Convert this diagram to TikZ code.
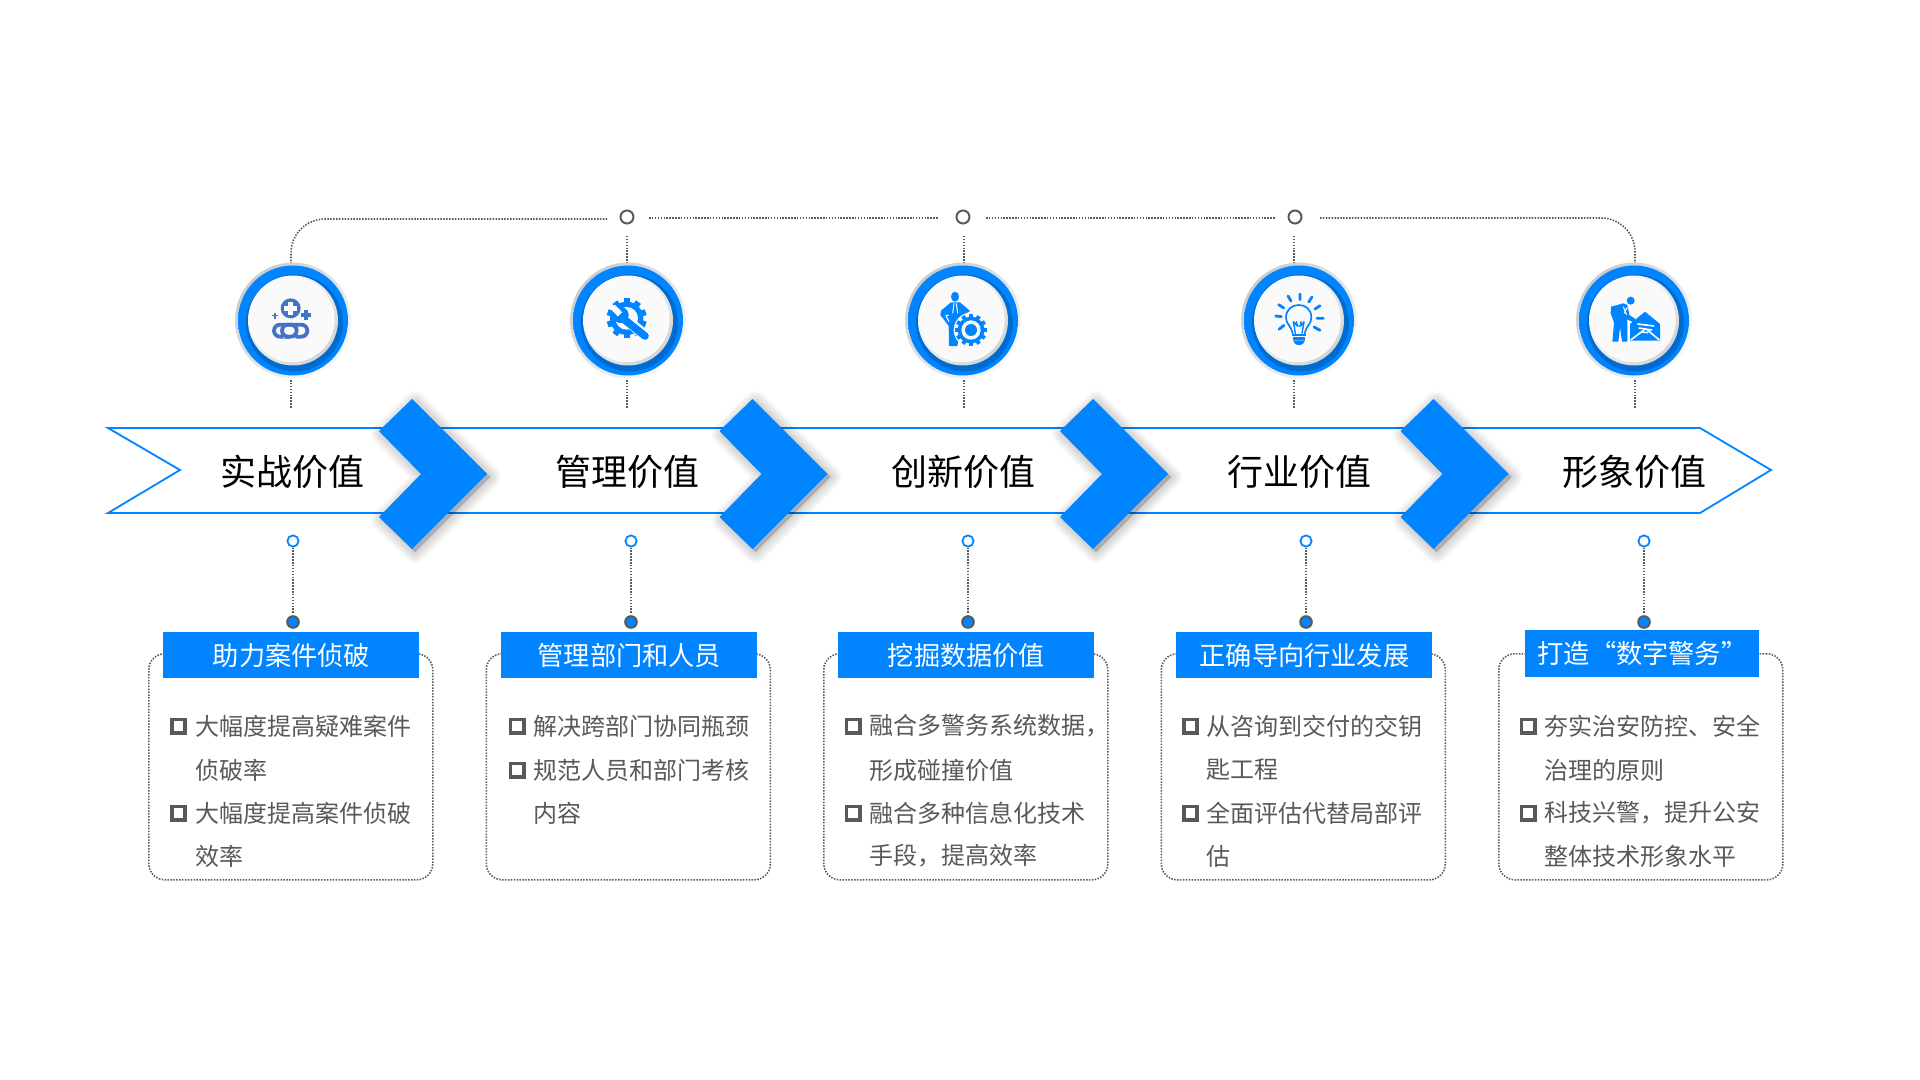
\documentclass[tikz,border=0pt]{standalone}
\usepackage{fontspec}
\setmainfont{Noto Sans CJK SC}
\definecolor{brand}{RGB}{0,132,255}
\definecolor{branddark}{RGB}{0,100,192}
\definecolor{bodygray}{RGB}{89,89,89}
\definecolor{dotgray}{RGB}{90,90,90}
\definecolor{chainblue}{RGB}{68,114,196}
\definecolor{discwhite}{RGB}{250,250,250}
\pgfdeclareradialshading{ringshade}{\pgfpointorigin}{color(0bp)=(brand); color(42bp)=(brand); color(50bp)=(branddark)}
\tikzset{
  dotline/.style={draw=dotgray,line width=0.8pt,dash pattern=on 0.75pt off 0.7pt},
  halo/.style={circle,inner sep=0pt,minimum size=58pt,top color=black!20,bottom color=black!3,shading angle=45},
  ring/.style={circle,inner sep=0pt,minimum size=55pt,shading=ringshade},
  rim/.style={circle,inner sep=0pt,minimum size=45pt,top color=white,bottom color=black!17,shading angle=45},
  disc/.style={circle,inner sep=0pt,minimum size=42.5pt,fill=discwhite},
  topdot/.style={circle,draw=dotgray,line width=1pt,fill=white,inner sep=0pt,minimum size=6.5pt},
  lowdot/.style={circle,draw=brand,line width=0.9pt,fill=white,inner sep=0pt,minimum size=5.6pt},
  stopdot/.style={circle,draw=dotgray,line width=1pt,fill=brand,inner sep=0pt,minimum size=5.8pt},
  headtext/.style={inner sep=0pt,text=black,font=\fontsize{18pt}{20pt}\selectfont},
  framebox/.style={dotline,rounded corners=8pt,anchor=north west,inner sep=0pt,minimum width=142pt,minimum height=113pt},
  titlebox/.style={fill=brand,text=white,anchor=north west,inner sep=0pt,minimum height=23pt,minimum width=128pt,font=\fontsize{13.1pt}{15pt}\selectfont},
  bodytext/.style={anchor=west,inner sep=0pt,text=bodygray,font=\fontsize{12pt}{14pt}\selectfont},
  bulletbox/.style={draw=bodygray,line width=1.9pt,inner sep=0pt,minimum size=6.6pt},
  chevshape/.style={fill=brand},
  icon/.style={fill=brand,draw=none},
  iconline/.style={draw=brand,line cap=round,line join=round},
}
\newcommand{\chevronat}[1]{%
  \begin{scope}[shift={(#1,0)}]
    \foreach \w in {11,9.5,8,6.5,5,3.5,2,0.5}
      \path[draw=black,draw opacity=0.022,fill=black,fill opacity=0.022,line width=\w pt,line join=round,shift={(3,3)}]
        (412,399) -- (487,474) -- (412,549) -- (379,517) -- (421,474) -- (379,431) -- cycle;
    \path[chevshape] (412,399) -- (487,474) -- (412,549) -- (379,517) -- (421,474) -- (379,431) -- cycle;
  \end{scope}}
\newcommand{\bodyline}[4]{\node[bodytext] (#1) at (#2,#3) {#4};}
\newcommand{\bulletat}[3]{\node[bulletbox] (#1) at (#2,#3) {};}
\begin{document}
\begin{tikzpicture}[x=0.5pt,y=-0.5pt]
\useasboundingbox (0,0) rectangle (1920,1080);
\fill[white] (0,0) rectangle (1920,1080);

% top connector
\node[topdot] (t2) at (627,217) {};
\node[topdot] (t3) at (963,217) {};
\node[topdot] (t4) at (1295,217) {};
\coordinate (u1) at (291,264);
\coordinate (v1) at (607,219);
\coordinate (v2) at (649,218);
\coordinate (v3) at (938,218);
\coordinate (v4) at (986,218);
\coordinate (v5) at (1275,218);
\coordinate (v6) at (1320,218);
\coordinate (u5) at (1635,264);
\draw[dotline,rounded corners=17pt] (u1) |- (v1);
\draw[dotline] (v2) -- (v3);
\draw[dotline] (v4) -- (v5);
\draw[dotline,rounded corners=17pt] (v6) -| (u5);
\foreach \i/\x in {2/627,3/964,4/1294} {
  \coordinate (a\i) at (\x,264);
  \coordinate (m\i) at (\x,236);
  \draw[dotline] (m\i) -- (a\i);
}
\foreach \i/\x in {1/291,2/627,3/964,4/1294,5/1635} {
  \coordinate (b\i) at (\x,380);
  \coordinate (e\i) at (\x,408);
  \draw[dotline] (b\i) -- (e\i);
}

% circles
\foreach \i/\x in {1/293,2/628,3/963,4/1299,5/1634} {
  \node[halo] (h\i) at (\x,320.5) {};
  \node[ring] (c\i) at (\x,320.5) {};
  \fill[branddark,opacity=0.75] (\x+1.5,323) circle[radius=48.5];
  \node[rim] (r\i) at (\x,320.5) {};
  \node[disc] (d\i) at (\x-0.8,319.7) {};
}

% band
\draw[brand,line width=0.9pt,line join=miter,fill=white]
  (108,428) -- (1700,428) -- (1771,470) -- (1700,513) -- (108,513) -- (180,470) -- cycle;
\chevronat{0}
\chevronat{340.5}
\chevronat{681}
\chevronat{1021.5}

\node[headtext] (h1t) at (292.5,471.5) {实战价值};
\node[headtext] (h2t) at (627.5,471.5) {管理价值};
\node[headtext] (h3t) at (963.5,471.5) {创新价值};
\node[headtext] (h4t) at (1299.5,471.5) {行业价值};
\node[headtext] (h5t) at (1634.5,471.5) {形象价值};

% frames, stems
\foreach \i/\f/\x in {1/148/293,2/485.5/631,3/823/968,4/1160.5/1306,5/1498/1644} {
  \node[framebox] (f\i) at (\f,653) {};
  \node[lowdot] (l\i) at (\x,541) {};
  \node[stopdot] (s\i) at (\x,622) {};
  \draw[dotline,shorten >=0.6pt] (l\i) -- (s\i);
}

% titles
\node[titlebox] (b1t) at (163,632) {助力案件侦破};
\node[titlebox] (b2t) at (501,632) {管理部门和人员};
\node[titlebox] (b3t) at (838,632) {挖掘数据价值};
\node[titlebox] (b4t) at (1176,632) {正确导向行业发展};
\node[titlebox,minimum width=117pt,minimum height=23.5pt] (b5t) at (1525,630) {\raisebox{-1pt}{打造“数字警务”}};

% bullets
\bulletat{q11}{178.5}{726}\bulletat{q12}{178.5}{813}
\bulletat{q21}{517}{726}\bulletat{q22}{517}{770}
\bulletat{q31}{853}{726}\bulletat{q32}{853}{813}
\bulletat{q41}{1190.5}{726}\bulletat{q42}{1190.5}{813}
\bulletat{q51}{1528}{726}\bulletat{q52}{1528}{813}

\bodyline{p11}{195}{726}{大幅度提高疑难案件}
\bodyline{p12}{195}{770}{侦破率}
\bodyline{p13}{195}{813}{大幅度提高案件侦破}
\bodyline{p14}{195}{856}{效率}
\bodyline{p21}{533.5}{726}{解决跨部门协同瓶颈}
\bodyline{p22}{533.5}{770}{规范人员和部门考核}
\bodyline{p23}{533.5}{813}{内容}
\bodyline{p31}{869}{726}{融合多警务系统数据，}
\bodyline{p32}{869}{770}{形成碰撞价值}
\bodyline{p33}{869}{813}{融合多种信息化技术}
\bodyline{p34}{869}{856}{手段，提高效率}
\bodyline{p41}{1206.5}{726}{从咨询到交付的交钥}
\bodyline{p42}{1206.5}{770}{匙工程}
\bodyline{p43}{1206.5}{813}{全面评估代替局部评}
\bodyline{p44}{1206.5}{856}{估}
\bodyline{p51}{1544}{726}{夯实治安防控、安全}
\bodyline{p52}{1544}{770}{治理的原则}
\bodyline{p53}{1544}{813}{科技兴警，提升公安}
\bodyline{p54}{1544}{856}{整体技术形象水平}

% icon 1: chain with pluses (zoom coordinates, 3 units = 1 px)
\begin{scope}[shift={(200,190)},x=0.16667pt,y=-0.16667pt]
  \fill[chainblue] (272,355) circle[radius=30];
  \draw[white,line width=2.6pt] (253,355) -- (291,355) (272,336) -- (272,374);
  \draw[chainblue,line width=2.2pt] (303,375) -- (333,375) (318,360) -- (318,390);
  \draw[chainblue,line width=0.7pt] (216,377) -- (234,377) (225,368) -- (225,386);
  \draw[chainblue,line width=1.9pt] (240,404) -- (272,404) arc[start angle=-90,end angle=90,radius=18] -- (240,440) arc[start angle=90,end angle=270,radius=18] -- cycle;
  \draw[discwhite,line width=1.2pt] (250,440) -- (262,440) (276,404) -- (294,404);
  \draw[chainblue,line width=1.9pt] (268,440) -- (264,440) arc[start angle=90,end angle=270,radius=18] -- (304,404) arc[start angle=-90,end angle=90,radius=18] -- (286,440);
\end{scope}

% icon 2: gear and wrench
\begin{scope}[shift={(200,190)},x=0.16667pt,y=-0.16667pt]
  \foreach \a in {0,36,...,324}
    \fill[brand,rotate around={\a:(1280,385)}] (1271,325) rectangle (1289,345);
  \fill[brand] (1280,385) circle[radius=50];
  \fill[discwhite] (1280,385) circle[radius=34];
  \draw[discwhite,line width=5.4pt] (1290,398) -- (1345,445);
  \draw[brand,line width=3.8pt,line cap=round] (1272,388) -- (1335,438);
  \fill[brand] (1262,375) circle[radius=24];
  \draw[discwhite,line width=3pt] (1260,373) -- (1238,350);
\end{scope}

% icon 3: man with gear
\begin{scope}[shift={(880,250)},x=0.16667pt,y=-0.16667pt]
  \fill[brand] (225,140) ellipse[x radius=12,y radius=15];
  \fill[brand] (213,157) -- (183,182) -- (181,195) -- (206,228) -- (207,288) -- (232,288) -- (250,195) -- (270,183) -- (240,157) -- cycle;
  \draw[white,line width=0.5pt] (222,160) -- (218,190) (229,160) -- (233,190) (206,195) -- (198,197) -- (207,215);
  \fill[discwhite] (273,240) circle[radius=52];
  \foreach \a in {0,30,...,330}
    \fill[brand,rotate around={\a:(273,240)}] (267,192) rectangle (279,206);
  \fill[brand] (273,240) circle[radius=40];
  \fill[discwhite] (273,240) circle[radius=29];
  \fill[brand] (273,240) circle[radius=18];
\end{scope}

% icon 4: light bulb
\begin{scope}[shift={(1220,250)},x=0.16667pt,y=-0.16667pt]
  \draw[iconline,line width=0.85pt] (218,250) .. controls (212,225) and (198,222) .. (198,203)
    .. controls (198,178) and (216,165) .. (236,165) .. controls (257,165) and (274,178) .. (274,203)
    .. controls (274,222) and (260,225) .. (254,250);
  \draw[iconline,line width=0.7pt] (226,250) -- (220,215) -- (232,228) -- (242,228) -- (252,215) -- (246,250)
    (229,215) -- (232,228) (243,215) -- (241,228);
  \draw[iconline,line width=1.3pt,line cap=butt] (216,255) -- (258,255) (218,265) -- (256,265);
  \fill[brand] (219,271) -- (255,271) -- (250,280) .. controls (243,287) and (230,287) .. (224,280) -- cycle;
  \draw[iconline,line width=1.4pt] (240,132) -- (240,149) (204,138) -- (213,153) (276,141) -- (266,156)
    (176,164) -- (191,174) (300,167) -- (285,177) (167,198) -- (184,200) (291,205) -- (310,205)
    (177,238) -- (192,226) (282,231) -- (300,241);
\end{scope}

% icon 5: man with envelope
\begin{scope}[shift={(1220,250)},x=0.16667pt,y=-0.16667pt]
  \fill[brand] (1232,152) circle[radius=12];
  \fill[brand] (1173,170) -- (1210,160) -- (1222,165) -- (1228,195) -- (1246,207) -- (1242,218) -- (1222,208) -- (1222,275) -- (1206,275) -- (1200,232) -- (1195,275) -- (1177,275) -- (1182,218) -- (1172,190) -- cycle;
  \draw[white,line width=0.5pt] (1210,170) -- (1220,195) (1222,172) -- (1212,190);
  \fill[brand] (1230,222) -- (1275,185) -- (1320,222) -- (1320,272) -- (1230,272) -- cycle;
  \draw[white,line width=0.8pt] (1252,222) -- (1302,228) (1256,234) -- (1296,240) (1264,246) -- (1284,248) (1232,270) -- (1272,240) (1318,270) -- (1282,240);
\end{scope}
\end{tikzpicture}
\end{document}
